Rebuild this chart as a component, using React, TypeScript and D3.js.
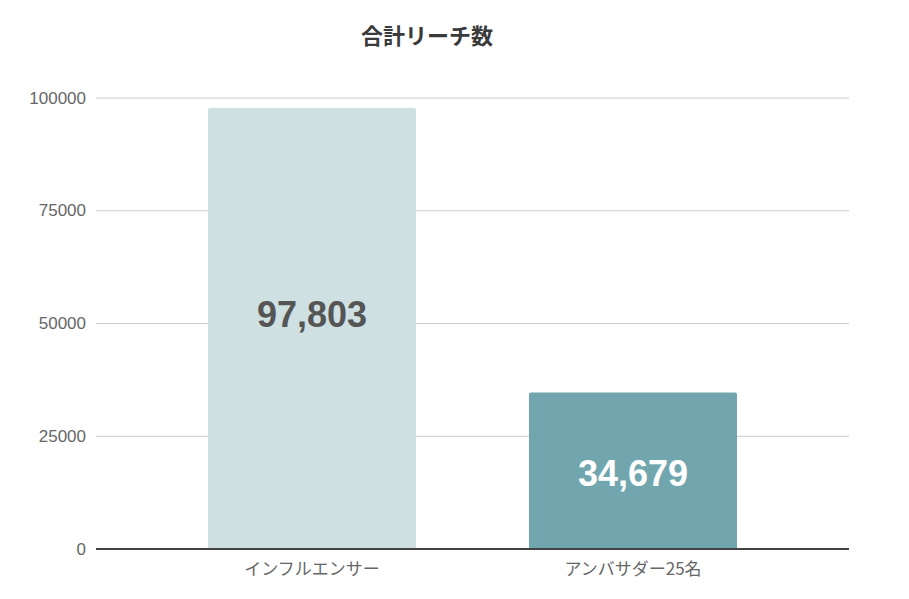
import React from "react";
import * as d3 from "d3";

const categories = ["インフルエンサー", "アンバサダー25名"];
const values = [97803, 34679];
const barColors = ["#cfe0e3", "#72a6ae"];
const labelColors = ["#555555", "#ffffff"];
const yTicks = [0, 25000, 50000, 75000, 100000];
const title = "合計リーチ数";

const W = 909;
const H = 599;

export default function App() {
  const gridLeft = 96;
  const gridRight = 849;
  const y = d3.scaleLinear().domain([0, 100000]).range([549, 98]);
  const x = d3
    .scaleBand<string>()
    .domain(categories)
    .range([151.5, 793.5])
    .paddingInner(0.352)
    .paddingOuter(0.176);
  const labelDy = [-1.5, 15];
  const fmt = d3.format(",");
  const jp = "'Noto Sans CJK JP', 'Noto Sans', sans-serif";
  const lat = "'Liberation Sans', Arial, Helvetica, sans-serif";

  return (
    <svg
      width={W}
      height={H}
      style={{ position: "absolute", left: 0, top: 0, background: "#fff" }}
    >
      <text
        x={427}
        y={34}
        textAnchor="middle"
        dominantBaseline="central"
        fontFamily={jp}
        fontWeight="bold"
        fontSize={22}
        fill="#3a3a3a"
      >
        {title}
      </text>
      {yTicks.map((t) => (
        <g key={t}>
          {t !== 0 && (
            <line
              x1={gridLeft}
              x2={gridRight}
              y1={y(t)}
              y2={y(t)}
              stroke="#cccccc"
              strokeWidth={1}
            />
          )}
          <text
            x={86}
            y={y(t)}
            textAnchor="end"
            dominantBaseline="central"
            fontFamily={lat}
            fontSize={17}
            fill="#666"
          >
            {t}
          </text>
        </g>
      ))}
      {categories.map((c, i) => {
        const x0 = x(c)!;
        const bw = x.bandwidth();
        const top = y(values[i]);
        const mid = (top + y(0)) / 2;
        return (
          <g key={c}>
            <rect
              x={x0}
              y={top}
              width={bw}
              height={y(0) - top}
              rx={2}
              fill={barColors[i]}
            />
            <rect x={x0} y={y(0) - 4} width={bw} height={4} fill={barColors[i]} />
            <text
              x={x0 + bw / 2}
              y={mid + labelDy[i]}
              textAnchor="middle"
              fontFamily={lat}
              fontWeight="bold"
              fontSize={36}
              fill={labelColors[i]}
            >
              {fmt(values[i])}
            </text>
            <text
              x={x0 + bw / 2}
              y={567}
              textAnchor="middle"
              dominantBaseline="central"
              fontFamily={jp}
              fontSize={17}
              fill="#666"
            >
              {c}
            </text>
          </g>
        );
      })}
      <line
        x1={gridLeft}
        x2={gridRight}
        y1={y(0)}
        y2={y(0)}
        stroke="#444"
        strokeWidth={2}
      />
    </svg>
  );
}
